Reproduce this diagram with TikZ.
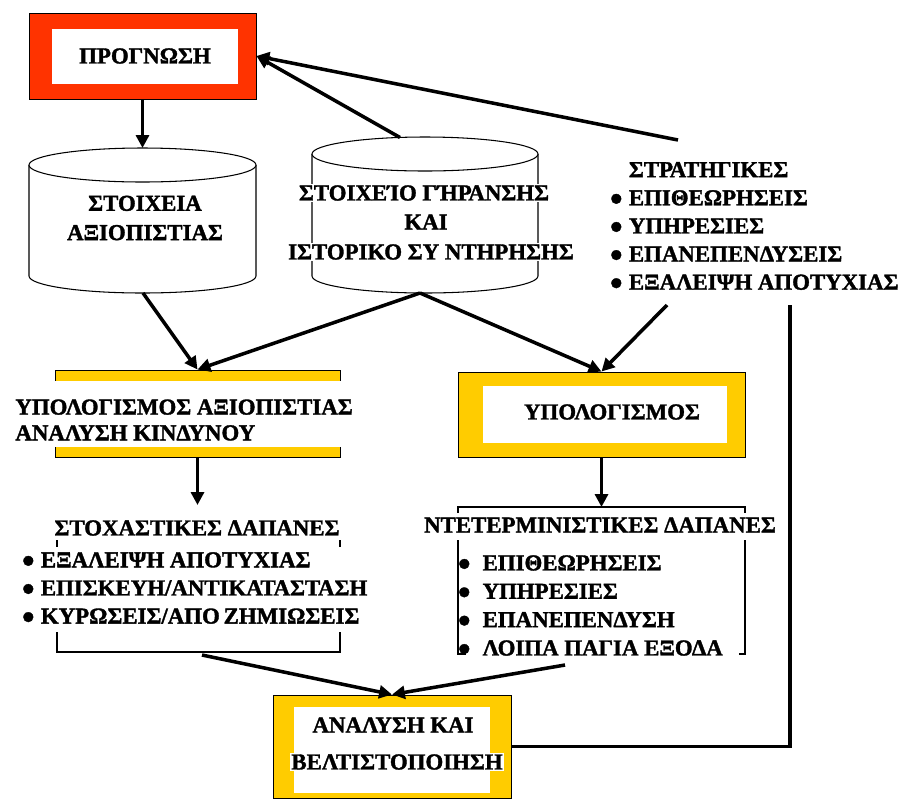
\documentclass[tikz,border=0pt]{standalone}
\usepackage{fontspec}
\setmainfont{Liberation Serif}[BoldFeatures={FakeBold=1.5}]
\usepackage{xcolor}
\definecolor{fgred}{RGB}{255,51,0}
\definecolor{fgyellow}{RGB}{255,204,0}
\usetikzlibrary{arrows.meta,fit}

\begin{document}
\begin{tikzpicture}[x=0.03cm, y=-0.03cm,
  every node/.style={font=\bfseries\fontsize{19.5}{24}\selectfont, inner sep=1pt},
  frm/.style={draw=black, line width=0.8pt, inner sep=0pt},
  arr/.style={-{Triangle[length=11pt,width=11pt]}, line width=3pt},
  cyl/.style={draw=black, line width=0.9pt, fill=white},
  brk/.style={line width=0.9pt}]
\fill[white] (0,0) rectangle (902,798);
\useasboundingbox (0,0) rectangle (902,798);
% Forecast box
\node[frm, fill=fgred, fit={(29,13) (256,99)}] (prog) {};
\fill[white] (52,29) rectangle (238,84);
\node (progtxt) at (145,56) {ΠΡΟΓΝΩΣΗ};
% Cylinders
\draw[cyl] (29,165) -- (29,276) arc[start angle=180, end angle=360, x radius=3.405cm, y radius=0.51cm] -- (256,165);
\draw[cyl] (142.5,165) ellipse [x radius=3.405cm, y radius=0.51cm];
\node[align=center, font=\bfseries\fontsize{19.5}{25}\selectfont] (reldata) at (145,218) {ΣΤΟΙΧΕΙΑ\\ΑΞΙΟΠΙΣΤΙΑΣ};
\draw[cyl] (312,154) -- (312,276) arc[start angle=180, end angle=360, x radius=3.39cm, y radius=0.51cm] -- (538,154);
\draw[cyl] (425,154) ellipse [x radius=3.39cm, y radius=0.51cm];
\node[fill=white] (agedata) at (424,193) {ΣΤΟΙΧΕΊΟ ΓΉΡΑΝΣΗΣ};
\node[fill=white] (agekai) at (426,222) {ΚΑΙ};
\node[fill=white] (agehist) at (431,252) {ΙΣΤΟΡΙΚΟ ΣΥ ΝΤΗΡΗΣΗΣ};
\coordinate (cyla top) at (142.5,148);
\coordinate (cyla bot) at (143,293);
\coordinate (cylb top) at (400,137.5);
\coordinate (cylb bot) at (420,293);
% Strategies
\node[anchor=west, align=left] (strat) at (608,226) {\hphantom{● }ΣΤΡΑΤΗΓΙΚΕΣ\\● ΕΠΙΘΕΩΡΗΣΕΙΣ\\● ΥΠΗΡΕΣΙΕΣ\\● ΕΠΑΝΕΠΕΝΔΥΣΕΙΣ\\● ΕΞΑΛΕΙΨΗ ΑΠΟΤΥΧΙΑΣ};
\coordinate (strat top) at (678,140);
\coordinate (strat bot) at (667,305);
\coordinate (fb) at (790,305);
% Reliability calculation
\node[frm, fill=fgyellow, fit={(55,370) (340,457)}] (calc) {};
\fill[white] (14,381) rectangle (372,447);
\node[anchor=west, align=left, font=\bfseries\fontsize{19.5}{22}\selectfont] (calctxt) at (14,420) {ΥΠΟΛΟΓΙΣΜΟΣ ΑΞΙΟΠΙΣΤΙΑΣ\\ΑΝΑΛΥΣΗ ΚΙΝΔΥΝΟΥ};
% Calculation
\node[frm, fill=fgyellow, fit={(458,372) (745,457)}] (comp) {};
\fill[white] (483,386) rectangle (727,443);
\node (comptxt) at (612,412) {ΥΠΟΛΟΓΙΣΜΟΣ};
% Stochastic costs
\node (stochttl) at (197,528) {ΣΤΟΧΑΣΤΙΚΕΣ ΔΑΠΑΝΕΣ};
\draw[brk] (57,540) -- (57,547) (340,540) -- (340,547);
\node[anchor=west, align=left] (stoch) at (20,588) {● ΕΞΑΛΕΙΨΗ ΑΠΟΤΥΧΙΑΣ\\● ΕΠΙΣΚΕΥΗ/ΑΝΤΙΚΑΤΑΣΤΑΣΗ\\● ΚΥΡΩΣΕΙΣ/ΑΠΟ\,ΖΗΜΙΩΣΕΙΣ};
\draw[brk] (57,632) -- (57,652) -- (340,652) -- (340,632);
\coordinate (stoch top) at (197.5,505);
\coordinate (stoch bot) at (202,655);
% Deterministic costs
\draw[brk] (458,513) -- (458,507) -- (745,507) -- (745,513);
\node (detttl) at (600,525) {ΝΤΕΤΕΡΜΙΝΙΣΤΙΚΕΣ ΔΑΠΑΝΕΣ};
\draw[brk] (466,654) -- (458,654) -- (458,540);
\draw[brk] (739,654) -- (745,654) -- (745,540);
\node[anchor=west, align=left, font=\bfseries\fontsize{19.5}{24.2}\selectfont] (det) at (456,605.5) {●\ \ ΕΠΙΘΕΩΡΗΣΕΙΣ\\●\ \ ΥΠΗΡΕΣΙΕΣ\\●\ \ ΕΠΑΝΕΠΕΝΔΥΣΗ\\●\ \ ΛΟΙΠΑ ΠΑΓΙΑ ΕΞΟΔΑ};
\coordinate (det top) at (601.5,507);
\coordinate (det bot) at (565,665);
% Analysis box
\node[frm, fill=fgyellow, fit={(273,695) (511,798)}] (opt) {};
\fill[white] (294,707) rectangle (490,793);
\node (opttxt) at (393,725) {ΑΝΑΛΥΣΗ ΚΑΙ};
\node[fill=white] (opttxt2) at (397,762) {ΒΕΛΤΙΣΤΟΠΟΙΗΣΗ};
% Arrows
\draw[arr] (prog.south) -- (cyla top);
\draw[arr] (cylb top) -- (prog.east);
\draw[arr] (strat top) -- (prog.east);
\draw[arr] (cyla bot) -- (calc.north);
\draw[arr] (cylb bot) -- (calc.north);
\draw[arr] (cylb bot) -- (comp.north);
\draw[arr] (strat bot) -- (comp.north);
\draw[arr] (calc.south) -- (stoch top);
\draw[arr] (comp.south) -- (det top);
\draw[arr] (stoch bot) -- (opt.north);
\draw[arr] (det bot) -- (opt.north);
\draw[line width=3pt] (opt.east) -| (fb);
\end{tikzpicture}
\end{document}
